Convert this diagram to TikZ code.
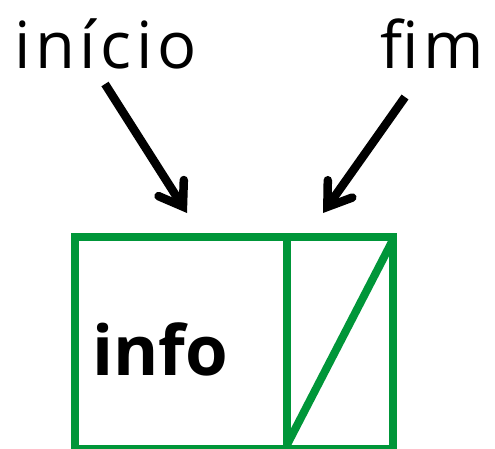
\documentclass[tikz,border=0pt]{standalone}
\usepackage{fontspec}
\setmainfont{Open Sans}
\usetikzlibrary{arrows.meta}
\definecolor{verdecaixa}{RGB}{0,150,57}
\begin{document}
\begin{tikzpicture}[x=1pt,y=-1pt,
    rotulo/.style={inner sep=0pt,anchor=base west,font=\fontsize{65}{65}\selectfont\addfontfeature{LetterSpace=7}},
    seta/.style={line width=8.5pt,-{Straight Barb[length=22pt,width=30pt,line cap=round]}},
    campo/.style={draw=verdecaixa,line width=8pt,inner sep=0pt,anchor=north west}]
  \useasboundingbox (0,0) rectangle (495,448);
  \node[rotulo] (inicio) at (14,68) {início};
  \node[rotulo] (fim) at (380,68) {fim};
  \node[campo,minimum width=212pt,minimum height=211.5pt] (info) at (71,233) {};
  \node[campo,minimum width=105.5pt,minimum height=211.5pt] (prox) at (283,233) {};
  \node[rotulo,font=\fontsize{69}{69}\selectfont\bfseries] (txtinfo) at (92,375) {info};
  \begin{scope}
    \clip (prox.south west) rectangle (prox.north east);
    \draw[draw=verdecaixa,line width=8pt] (prox.south west) -- (prox.north east);
  \end{scope}
  \coordinate (alvoinicio) at (187,213);
  \coordinate (alvofim) at (323,213);
  \draw[seta] ([shift={(91,16)}]inicio.base west) -- (alvoinicio);
  \draw[seta] ([shift={(25,29)}]fim.base west) -- (alvofim);
\end{tikzpicture}
\end{document}
